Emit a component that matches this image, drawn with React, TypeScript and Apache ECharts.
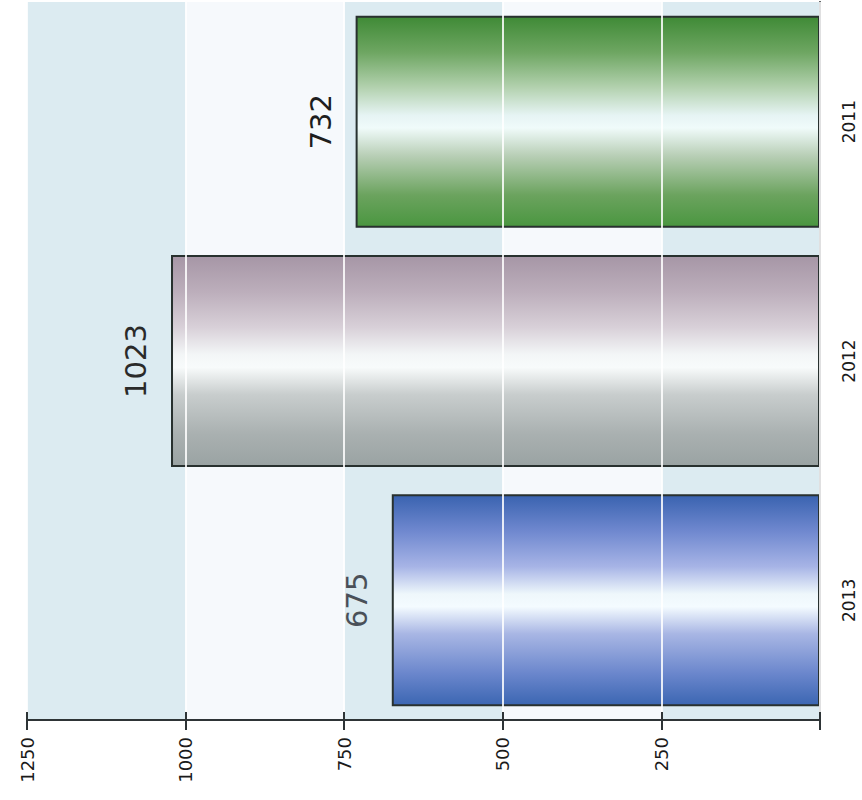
import React, { useEffect, useRef } from "react";
import * as echarts from "echarts";

const categories = ["2013", "2012", "2011"];
const values = [675, 1023, 732];
const valueTicks = [0, 250, 500, 750, 1000, 1250];

const barGradients = [
  ["#3a63b0", "#6f88cf", "#a7b4e6", "#eef7fb", "#f4fbff", "#a8b6e4", "#6a86cc", "#3b66b2"],
  ["#a696a6", "#bcaebb", "#d8d0d8", "#f3f6f7", "#f8fbfb", "#c8cdcd", "#a9b0b0", "#9aa3a3"],
  ["#3f8a36", "#6ea662", "#b4d2b0", "#e6f4f4", "#f0fbfa", "#b9cfb7", "#6ba35e", "#4a9640"],
];
const labelColors = ["#4a5058", "#2a2a2a", "#1e1e1e"];

function gradient(stops: string[]) {
  const pos = [0, 0.17, 0.34, 0.47, 0.53, 0.66, 0.85, 1];
  return new echarts.graphic.LinearGradient(
    0,
    0,
    0,
    1,
    stops.map((c, i) => ({ offset: pos[i], color: c }))
  );
}

export default function App() {
  const ref = useRef<HTMLDivElement>(null);
  useEffect(() => {
    if (!ref.current) return;
    const chart = echarts.init(ref.current, null, { renderer: "svg" });
    const gridPos = { left: 27, right: 42, top: 2, bottom: 80 };
    chart.setOption({
      animation: false,
      backgroundColor: "#ffffff",
      grid: gridPos,
      xAxis: [
        {
          type: "value",
          inverse: true,
          min: valueTicks[0],
          max: valueTicks[valueTicks.length - 1],
          interval: 250,
          position: "bottom",
          axisLine: { show: true, lineStyle: { color: "#2e3436", width: 2 } },
          axisTick: { show: true, length: 10, lineStyle: { color: "#2e3436", width: 2 } },
          axisLabel: {
            rotate: 90,
            margin: 17,
            color: "#1a1a1a",
            fontFamily: "DejaVu Sans",
            fontSize: 18,
            formatter: (v: number) => (v === 0 ? "" : String(v)),
          },
          splitLine: { show: false },
          splitArea: { show: true, areaStyle: { color: ["#dcebf1", "#f6f9fc"] } },
        },
        {
          type: "value",
          inverse: true,
          min: valueTicks[0],
          max: valueTicks[valueTicks.length - 1],
          interval: 250,
          position: "bottom",
          z: 10,
          axisLine: { show: false },
          axisTick: { show: true, inside: true, length: 8, lineStyle: { color: "#2e3436", width: 2 } },
          axisLabel: { show: false },
          splitLine: { show: true, lineStyle: { color: "rgba(255,255,255,0.85)", width: 2 } },
        },
      ],
      yAxis: {
        type: "category",
        data: categories,
        position: "right",
        axisLine: { show: true, lineStyle: { color: "#2e3436", width: 2 } },
        axisTick: { show: false },
        axisLabel: {
          rotate: 90,
          margin: 20,
          color: "#1a1a1a",
          fontFamily: "DejaVu Sans",
          fontSize: 17,
        },
        splitLine: { show: false },
      },
      series: [
        {
          type: "bar",
          xAxisIndex: 0,
          barWidth: 212,
          data: values.map((v, i) => ({
            value: v,
            itemStyle: {
              color: gradient(barGradients[i]),
              borderColor: "#28312f",
              borderWidth: 2,
            },
            label: { color: labelColors[i] },
          })),
          label: {
            show: true,
            position: "left",
            distance: 35,
            rotate: 90,
            align: "center",
            verticalAlign: "middle",
            fontFamily: "DejaVu Sans",
            fontSize: 29,
          },
        },
      ],
    });
    return () => chart.dispose();
  }, []);
  return (
    <div
      ref={ref}
      style={{ position: "fixed", left: 0, top: 0, width: 862, height: 800 }}
    />
  );
}
